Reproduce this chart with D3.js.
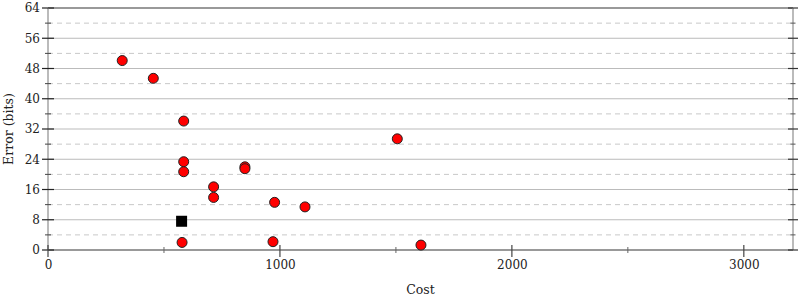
<!DOCTYPE html>
<html>
<head>
<meta charset="utf-8">
<script src="https://cdn.jsdelivr.net/npm/d3@7"></script>
<style>
  html, body { margin: 0; padding: 0; background: #fff; }
  svg { display: block; font-family: "DejaVu Serif", serif; }
</style>
</head>
<body>
<svg id="chart" width="800" height="300"></svg>
<script>
// ---- data ----
const costs  = [320, 454, 585, 585, 585, 714, 714, 849, 849, 977, 1108, 1506, 578, 970, 1608];
const errors = [50.1, 45.4, 34.1, 23.35, 20.7, 16.7, 13.9, 22.0, 21.5, 12.6, 11.4, 29.4, 2.0, 2.2, 1.3];
const baselineCost = [576];
const baselineError = [7.6];
const xMajorTicks = [0, 1000, 2000, 3000];
const xMinorTicks = [500, 1500, 2500];
const yMajorTicks = [0, 8, 16, 24, 32, 40, 48, 56, 64];
const yMinorTicks = [4, 12, 20, 28, 36, 44, 52, 60];
const xTitle = "Cost";
const yTitle = "Error (bits)";

(function () {
const svg = d3.select("#chart");
const mL = 48, mR = 793, mT = 8, mB = 250;

const x = d3.scaleLinear().domain([0, 3212]).range([mL, mR]);
const y = d3.scaleLinear().domain([0, 64]).range([mB, mT]);

// gridlines
svg.append("g").selectAll("line").data(yMinorTicks).join("line")
  .attr("x1", mL).attr("x2", mR)
  .attr("y1", d => y(d)).attr("y2", d => y(d))
  .attr("stroke", "#c8c8c8").attr("stroke-width", 1).attr("stroke-dasharray", "5,4");
svg.append("g").selectAll("line").data(yMajorTicks.filter(d => d > 0 && d < 64)).join("line")
  .attr("x1", mL).attr("x2", mR)
  .attr("y1", d => y(d)).attr("y2", d => y(d))
  .attr("stroke", "#bbb").attr("stroke-width", 1);

// frame lines
svg.append("line").attr("x1", mL).attr("x2", mR).attr("y1", y(64)).attr("y2", y(64))
  .attr("stroke", "#999").attr("stroke-width", 2);
svg.append("line").attr("x1", mL).attr("x2", mL).attr("y1", mT).attr("y2", mB)
  .attr("stroke", "#bbb").attr("stroke-width", 2);
svg.append("line").attr("x1", mR).attr("x2", mR).attr("y1", mT).attr("y2", mB)
  .attr("stroke", "#bbb").attr("stroke-width", 2);
svg.append("line").attr("x1", mL).attr("x2", mR).attr("y1", y(0)).attr("y2", y(0))
  .attr("stroke", "#999").attr("stroke-width", 2);

// left axis
const yAxisL = d3.axisLeft(y).tickValues(yMajorTicks).tickSize(0).tickPadding(8).tickFormat(d3.format("d"));
const gL = svg.append("g").attr("transform", `translate(${mL},0)`).call(yAxisL);
gL.select(".domain").remove();
gL.selectAll("text").attr("font-size", 12).attr("fill", "#222").attr("font-family", "DejaVu Serif");
svg.append("g").selectAll("line").data(yMajorTicks).join("line")
  .attr("x1", mL - 6).attr("x2", mL + 6).attr("y1", d => y(d)).attr("y2", d => y(d))
  .attr("stroke", "#222").attr("stroke-width", 1.2);
svg.append("g").selectAll("line").data(yMinorTicks).join("line")
  .attr("x1", mL - 3).attr("x2", mL + 3).attr("y1", d => y(d)).attr("y2", d => y(d))
  .attr("stroke", "#444").attr("stroke-width", 1);

// right axis ticks
svg.append("g").selectAll("line").data(yMajorTicks).join("line")
  .attr("x1", mR - 5).attr("x2", mR + 5).attr("y1", d => y(d)).attr("y2", d => y(d))
  .attr("stroke", "#333").attr("stroke-width", 1.2);
svg.append("g").selectAll("line").data(yMinorTicks).join("line")
  .attr("x1", mR - 2.5).attr("x2", mR + 2.5).attr("y1", d => y(d)).attr("y2", d => y(d))
  .attr("stroke", "#555").attr("stroke-width", 1);

// bottom axis
const xAxis = d3.axisBottom(x).tickValues(xMajorTicks).tickSize(0).tickPadding(10).tickFormat(d3.format("d"));
const gB = svg.append("g").attr("transform", `translate(0,${mB})`).call(xAxis);
gB.select(".domain").remove();
gB.selectAll("text").attr("font-size", 12).attr("fill", "#222").attr("font-family", "DejaVu Serif");
svg.append("g").selectAll("line").data(xMajorTicks).join("line")
  .attr("x1", d => x(d)).attr("x2", d => x(d)).attr("y1", mB - 5).attr("y2", mB + 7)
  .attr("stroke", "#444").attr("stroke-width", 1.2);
svg.append("g").selectAll("line").data(xMinorTicks).join("line")
  .attr("x1", d => x(d)).attr("x2", d => x(d)).attr("y1", mB - 3).attr("y2", mB + 3)
  .attr("stroke", "#666").attr("stroke-width", 1);

// titles
svg.append("text").attr("x", (mL + mR) / 2).attr("y", 294)
  .attr("text-anchor", "middle").attr("font-size", 12.5).attr("fill", "#222").text(xTitle);
svg.append("text").attr("transform", `translate(13,${(mT + mB) / 2}) rotate(-90)`)
  .attr("text-anchor", "middle").attr("font-size", 12.5).attr("fill", "#222").text(yTitle);

// points
const pts = costs.map((c, i) => ({ c, e: errors[i] }));
svg.append("g").selectAll("circle").data(pts).join("circle")
  .attr("cx", d => x(d.c)).attr("cy", d => y(d.e)).attr("r", 5)
  .attr("fill", "#f00").attr("stroke", "#222").attr("stroke-width", 1);

const base = baselineCost.map((c, i) => ({ c, e: baselineError[i] }));
svg.append("g").selectAll("rect").data(base).join("rect")
  .attr("x", d => x(d.c) - 5.5).attr("y", d => y(d.e) - 5.5)
  .attr("width", 11).attr("height", 11).attr("fill", "#000");
})();
</script>
</body>
</html>
